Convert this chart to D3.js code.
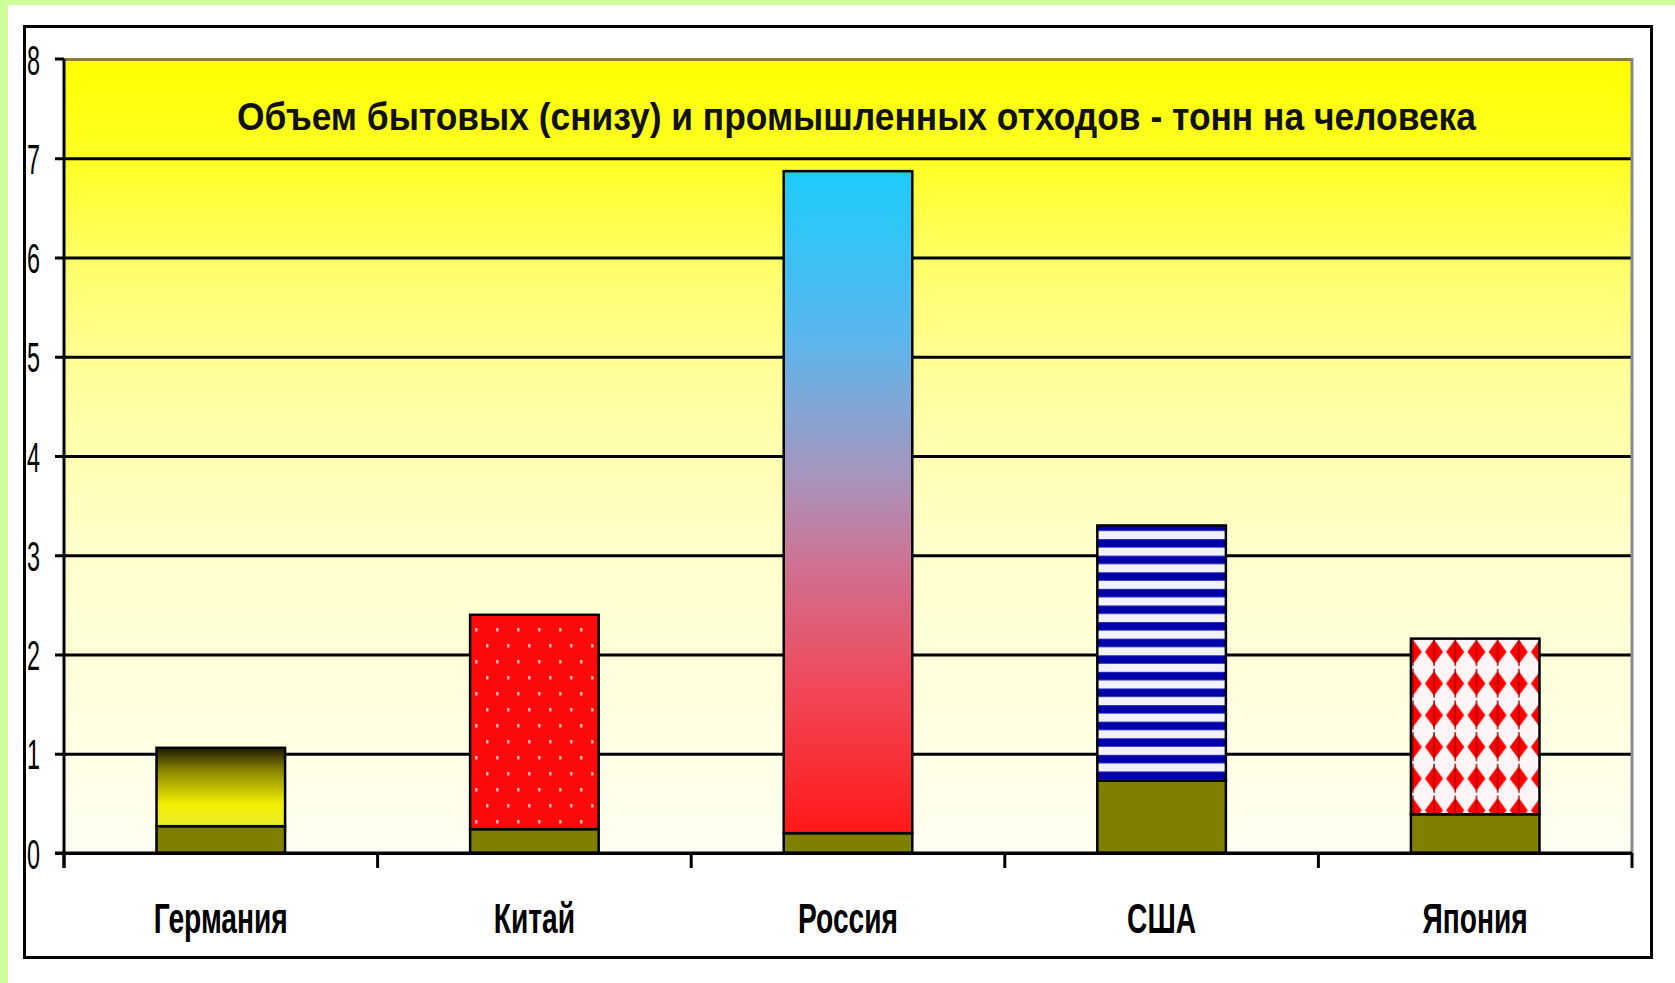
<!DOCTYPE html>
<html>
<head>
<meta charset="utf-8">
<script src="https://cdn.jsdelivr.net/npm/d3@7"></script>
<style>
  body { margin: 0; background: #ccff99; }
  svg { display: block; }
</style>
</head>
<body>
<script>
// data (tonnes per person)
var countries = ["Германия", "Китай", "Россия", "США", "Япония"];
var household = [0.27, 0.24, 0.20, 0.73, 0.39];
var industrial = [0.79, 2.16, 6.67, 2.57, 1.77];
var yTicks = [0, 1, 2, 3, 4, 5, 6, 7, 8];
var title = "Объем бытовых (снизу) и промышленных отходов - тонн на человека";

//SVG size and plot area
var W = 1675, H = 983;
var plot = {left: 64, right: 1632, top: 59, bottom: 853};

var svg = d3.select("body")
  .append("svg")
  .attr("width", W)
  .attr("height", H);

var defs = svg.append("defs");

//background gradient of the plot area
var bg = defs.append("linearGradient").attr("id", "bg")
  .attr("x1", 0).attr("y1", 0).attr("x2", 0).attr("y2", 1);
[[0, "#ffff00"], [0.13, "#ffff26"], [0.26, "#ffff6a"], [0.4, "#ffff9c"], [0.62, "#ffffcc"], [1, "#fffff2"]]
  .forEach(function(s){ bg.append("stop").attr("offset", s[0]).attr("stop-color", s[1]); });

//Германия - dark olive to yellow
var g0 = defs.append("linearGradient").attr("id", "fill-0")
  .attr("x1", 0).attr("y1", 0).attr("x2", 0).attr("y2", 1);
[[0, "#1c1800"], [0.3, "#8c8a00"], [0.72, "#f2ee00"], [1, "#ecec30"]]
  .forEach(function(s){ g0.append("stop").attr("offset", s[0]).attr("stop-color", s[1]); });

//Китай - red with small light dots
var p1 = defs.append("pattern").attr("id", "fill-1")
  .attr("patternUnits", "userSpaceOnUse").attr("width", 21).attr("height", 32);
p1.append("rect").attr("width", 21).attr("height", 32).attr("fill", "#ff0a0a");
p1.append("rect").attr("x", 3).attr("y", 4).attr("width", 2.5).attr("height", 3.5).attr("fill", "#ffb4b4");
p1.append("rect").attr("x", 13).attr("y", 20).attr("width", 2.5).attr("height", 3.5).attr("fill", "#ffb4b4");

//Россия - cyan to red
var g2 = defs.append("linearGradient").attr("id", "fill-2")
  .attr("x1", 0).attr("y1", 0).attr("x2", 0).attr("y2", 1);
[[0, "#1ccdfc"], [0.25, "#5ab6ec"], [0.45, "#a498c0"], [0.6, "#d07090"], [0.78, "#f04858"], [1, "#ff1818"]]
  .forEach(function(s){ g2.append("stop").attr("offset", s[0]).attr("stop-color", s[1]); });

//США - blue horizontal stripes
var p3 = defs.append("pattern").attr("id", "fill-3")
  .attr("patternUnits", "userSpaceOnUse").attr("width", 10).attr("height", 16.6);
p3.append("rect").attr("width", 10).attr("height", 16.6).attr("fill", "#f2f2ff");
p3.append("rect").attr("y", 8).attr("width", 10).attr("height", 8.3).attr("fill", "#0000aa");

//Япония - red diamonds
var p4 = defs.append("pattern").attr("id", "fill-4")
  .attr("patternUnits", "userSpaceOnUse").attr("width", 21.2).attr("height", 31.7)
  .attr("x", 3).attr("y", 2);
p4.append("rect").attr("width", 21.2).attr("height", 31.7).attr("fill", "#fff4f6");
p4.append("polygon").attr("points", "10.6,3.5 19.6,15.8 10.6,28.1 1.6,15.8").attr("fill", "#ff0000");
p4.append("rect").attr("x", 10).attr("y", 1).attr("width", 1.4).attr("height", 29).attr("fill", "#a00000");

//white card with black frame
svg.append("rect").attr("x", 8).attr("y", 5).attr("width", W - 8).attr("height", H - 5).attr("fill", "#ffffff");
svg.append("rect").attr("x", 24.5).attr("y", 26.5).attr("width", 1627).attr("height", 931)
  .attr("fill", "none").attr("stroke", "#000").attr("stroke-width", 3);

//scales
var x = d3.scaleBand().domain(countries).range([plot.left, plot.right]).padding(0);
var y = d3.scaleLinear().domain([0, 8]).range([plot.bottom, plot.top]);
var barFrac = 0.41;

svg.append("rect")
  .attr("x", plot.left).attr("y", y(8))
  .attr("width", plot.right - plot.left).attr("height", y(0) - y(8))
  .attr("fill", "url(#bg)");

//gridlines and y labels through the axis
var yAxis = svg.append("g")
  .attr("transform", "translate(" + plot.left + ",0)")
  .call(d3.axisLeft(y).tickValues(yTicks).tickSizeInner(-(plot.right - plot.left)).tickSizeOuter(0).tickPadding(24));
yAxis.select(".domain").remove();
yAxis.selectAll(".tick line")
  .attr("x1", -9)
  .attr("stroke", function(d){ return d == 8 ? "#8a7a44" : "#000"; })
  .attr("stroke-width", 3);
yAxis.selectAll(".tick text")
  .attr("font-family", "'Liberation Sans', Arial, sans-serif")
  .attr("font-size", 42)
  .attr("fill", "#000")
  .attr("dy", "0.36em")
  .attr("textLength", 13)
  .attr("lengthAdjust", "spacingAndGlyphs");
yAxis.selectAll(".tick").filter(function(d){ return d == 8; }).select("line")
  .attr("x1", 0);
svg.append("line").attr("x1", plot.left - 9).attr("x2", plot.left)
  .attr("y1", y(8)).attr("y2", y(8)).attr("stroke", "#000").attr("stroke-width", 3);

//right border of plot area
svg.append("line").attr("x1", plot.right).attr("x2", plot.right)
  .attr("y1", y(8) - 1).attr("y2", y(0)).attr("stroke", "#8a8a8a").attr("stroke-width", 3);

//title
svg.append("text")
  .attr("x", 237).attr("y", 130)
  .attr("font-family", "'Liberation Sans', Arial, sans-serif")
  .attr("font-weight", "bold")
  .attr("font-size", 39)
  .attr("fill", "#111")
  .attr("textLength", 1239)
  .attr("lengthAdjust", "spacingAndGlyphs")
  .text(title);

//stacked bars
var rows = countries.map(function(c, i){
  return {country: c, household: household[i], industrial: industrial[i], idx: i};
});
var series = d3.stack().keys(["household", "industrial"])(rows);

var columns = svg.selectAll("g.columns")
  .data(series)
  .enter()
  .append("g")
  .attr("class", "columns");

columns.selectAll("rect")
  .data(function(d){ return d.map(function(p){ p.key = d.key; return p; }); })
  .enter()
  .append("rect")
  .attr("x", function(d){ return x(d.data.country) + x.bandwidth() * (1 - barFrac) / 2; })
  .attr("width", x.bandwidth() * barFrac)
  .attr("y", function(d){ return y(d[1]); })
  .attr("height", function(d){ return y(d[0]) - y(d[1]); })
  .attr("fill", function(d){ return d.key == "household" ? "#808000" : "url(#fill-" + d.data.idx + ")"; })
  .attr("stroke", "#000")
  .attr("stroke-width", 2.5);

//x axis line, category ticks and labels
svg.append("line").attr("x1", plot.left - 9).attr("x2", plot.right)
  .attr("y1", y(0)).attr("y2", y(0)).attr("stroke", "#000").attr("stroke-width", 3);
svg.append("line").attr("x1", plot.left).attr("x2", plot.left)
  .attr("y1", y(8)).attr("y2", y(0) + 15).attr("stroke", "#000").attr("stroke-width", 3);

var bounds = countries.map(function(c){ return x(c); }).concat([plot.right]);
svg.selectAll(".ctick")
  .data(bounds)
  .enter()
  .append("line")
  .attr("class", "ctick")
  .attr("x1", function(d){ return d; }).attr("x2", function(d){ return d; })
  .attr("y1", y(0)).attr("y2", y(0) + 15)
  .attr("stroke", "#000").attr("stroke-width", 3);

var xAxis = svg.append("g")
  .attr("transform", "translate(0," + y(0) + ")")
  .call(d3.axisBottom(x).tickSize(0).tickPadding(48));
xAxis.select(".domain").remove();
xAxis.selectAll(".tick text")
  .attr("font-family", "'Liberation Sans', Arial, sans-serif")
  .attr("font-weight", "bold")
  .attr("font-size", 43)
  .attr("fill", "#000")
  .attr("dy", 0)
  .attr("y", 80)
  .each(function(){
    var n = this.getComputedTextLength();
    d3.select(this).attr("textLength", n * 0.655).attr("lengthAdjust", "spacingAndGlyphs");
  });
</script>
</body>
</html>
